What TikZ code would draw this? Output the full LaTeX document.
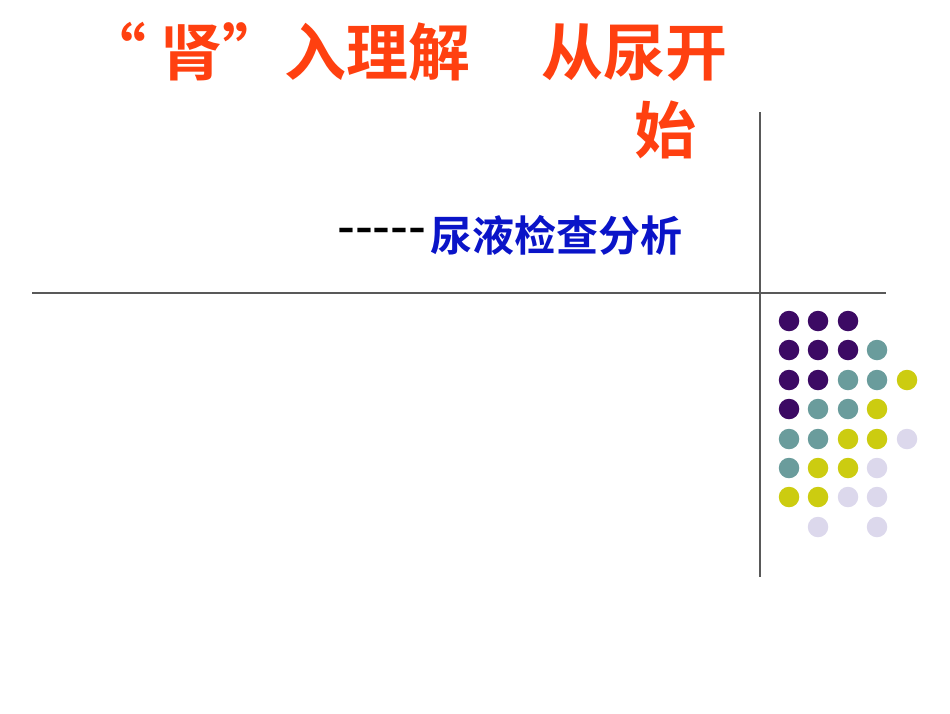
\documentclass[tikz,border=0pt]{standalone}
\usepackage{fontspec}
\newfontfamily\cjk{Noto Sans CJK SC Bold}
\definecolor{ttl}{HTML}{FF4010}
\definecolor{sub}{HTML}{0A14C8}
\definecolor{dp}{HTML}{3C0A64}
\definecolor{dt}{HTML}{6A9C9C}
\definecolor{dy}{HTML}{CCCC10}
\definecolor{dl}{HTML}{DCD8EC}
\tikzset{dot/.style={circle,inner sep=0pt,minimum size=20.5pt}, txt/.style={inner sep=0pt,anchor=west}}
\begin{document}
\begin{tikzpicture}[x=1pt,y=-1pt]
\useasboundingbox (0,0) rectangle (950,713);
\draw[gray!70!black,line width=1.2pt] (760,112) -- (760,577);
\draw[gray!70!black,line width=1.2pt] (32,293) -- (886,293);
\node[txt,text=ttl,font=\cjk\fontsize{62}{62}\selectfont] (t1) at (84,52) {“ 肾”入理解\hspace{1.15em}从尿开};
\node[txt,text=ttl,font=\cjk\fontsize{62}{62}\selectfont] (t2) at (634,130) {始};
\node[txt,font=\cjk\fontsize{42}{42}\selectfont] (s0) at (337,235) {\scalebox{1.15}[1]{-----}};
\node[txt,text=sub,font=\cjk\fontsize{42}{42}\selectfont] (s1) at (430,235) {尿液检查分析};
\foreach \c/\xx/\yy in {dp/789/321,dp/818/321,dp/848/321,
dp/789/350,dp/818/350,dp/848/350,dt/877/350,
dp/789/380,dp/818/380,dt/848/380,dt/877/380,dy/907/380,
dp/789/409,dt/818/409,dt/848/409,dy/877/409,
dt/789/439,dt/818/439,dy/848/439,dy/877/439,dl/907/439,
dt/789/468,dy/818/468,dy/848/468,dl/877/468,
dy/789/497,dy/818/497,dl/848/497,dl/877/497,
dl/818/527,dl/877/527}
\node[dot,fill=\c] (d\xx-\yy) at (\xx,\yy) {};
\end{tikzpicture}
\end{document}
